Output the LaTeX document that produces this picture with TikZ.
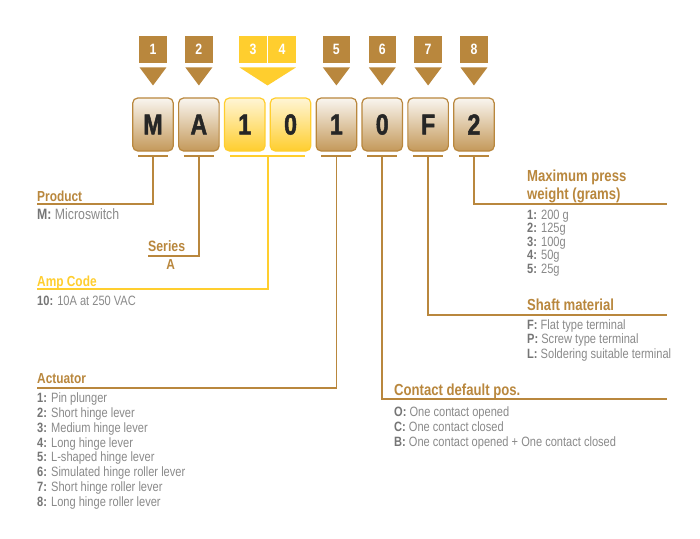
\documentclass[tikz,border=0pt]{standalone}
\usepackage{fontspec}
\setmainfont{Liberation Sans}[FakeStretch=0.82]
\newfontfamily\fontechave{Liberation Sans Bold}[FakeStretch=0.8, FakeBold=1.6]
\usetikzlibrary{positioning,calc}

\definecolor{ocre}{HTML}{B9873D}
\definecolor{ouro}{HTML}{FFCE2E}
\definecolor{cinza}{HTML}{8A8A8A}
\definecolor{cinzaesc}{HTML}{757575}
\definecolor{tinta}{HTML}{262626}

\newcommand{\opc}[2]{{\bfseries\color{cinzaesc}#1:} #2}

\begin{document}
\begin{tikzpicture}[x=1pt, y=-1pt]

    \useasboundingbox[fill=white] (0,0) rectangle (700,538);

    % Estilos
    \tikzset{
        numtag/.style={fill=ocre, minimum width=27.5pt, minimum height=27.5pt, inner sep=0pt,
            text=white, font=\bfseries\fontsize{15}{15}\selectfont},
        chave/.style={rounded corners=5pt, line width=1.2pt, draw=ocre, top color=ocre!8,
            bottom color=ocre!85, minimum width=40.5pt, minimum height=53pt, inner sep=0pt,
            text=tinta, font=\fontechave\fontsize{29}{29}\selectfont},
        chaveamp/.style={chave, draw=ouro, top color=ouro!20, bottom color=ouro},
        titulo/.style={anchor=base west, inner sep=0pt, text=ocre, align=left,
            font=\bfseries\fontsize{14.5}{16}\selectfont},
        tituloR/.style={titulo, font=\bfseries\fontsize{16}{17.6}\selectfont},
        lista/.style={anchor=base west, inner sep=0pt, align=left, text=cinza,
            font=\fontsize{13.5}{14.9}\selectfont},
        barra/.style={ocre, line width=2pt},
        lien/.style={draw=ocre, line width=1.8pt}
    }

    % --------------------
    % Numeros e setas
    % --------------------
    \foreach \i/\x in {1/153, 2/198.85, 5/336.4, 6/382.25, 7/428.1, 8/473.95} {
        \node[numtag] (t\i) at (\x,49.5) {\i};
        \fill[ocre] ([xshift=0.5pt,yshift=-4pt]t\i.south west) --
            ([xshift=-0.5pt,yshift=-4pt]t\i.south east) --
            ([yshift=-22pt]t\i.south) -- cycle;
    }

    \node[numtag, fill=ouro] (t3) at (253,49.5) {3};
    \node[numtag, fill=ouro] (t4) at (282,49.5) {4};
    \fill[ouro] ([xshift=0.5pt,yshift=-4pt]t3.south west) --
        ([yshift=-4pt]t4.south east) --
        ($(t3.south east)!0.5!(t4.south west)+(0,-22pt)$) -- cycle;

    % --------------------
    % Codigo
    % --------------------
    \foreach \i/\x/\l in {1/153/M, 2/198.85/A, 5/336.4/1, 6/382.25/0, 7/428.1/F, 8/473.95/2}
        \node[chave] (b\i) at (\x,124.5) {\l};

    \node[chaveamp] (b3) at (244.7,124.5) {1};
    \node[chaveamp] (b4) at (290.55,124.5) {0};

    \foreach \i in {1,2,5,6,7,8}
        \draw[barra] ([xshift=-15pt,yshift=-4.5pt]b\i.south) -- ([xshift=15pt,yshift=-4.5pt]b\i.south);
    \draw[barra, ouro] ([xshift=-14.7pt,yshift=-4.5pt]b3.south) -- ([xshift=14.7pt,yshift=-4.5pt]b4.south);

    % --------------------
    % Ligacoes
    % --------------------
    \coordinate (fProd) at (37,204);
    \coordinate (fSerie) at (148,256);
    \coordinate (fAmp) at (37,289);
    \coordinate (fAct) at (37,388);
    \coordinate (fCont) at (667,399);
    \coordinate (fEixo) at (667,315);
    \coordinate (fPeso) at (667,204);
    \coordinate (m34) at ($(b3.south)!0.5!(b4.south)+(0,-4.5pt)$);

    \draw[lien] ([yshift=-4.5pt]b1.south) |- (fProd);
    \draw[lien] ([yshift=-4.5pt]b2.south) |- (fSerie);
    \draw[lien, draw=ouro] (m34) |- (fAmp);
    \draw[lien] ([yshift=-4.5pt]b5.south) |- (fAct);
    \draw[lien] ([yshift=-4.5pt]b6.south) |- (fCont);
    \draw[lien] ([yshift=-4.5pt]b7.south) |- (fEixo);
    \draw[lien] ([yshift=-4.5pt]b8.south) |- (fPeso);

    % --------------------
    % Textos (base = ultima linha)
    % --------------------
    \node[titulo] (hProd) at (37,201.5) {Product};
    \node[lista, font=\fontsize{15}{16}\selectfont] (lProd) at (37,219) {\opc{M}{Microswitch}};

    \node[titulo, font=\bfseries\fontsize{15}{16}\selectfont] (hSerie) at (148,251.7) {Series};
    \node[titulo, anchor=base] (lSerie) at (170.7,269) {A};

    \node[titulo, text=ouro] (hAmp) at (37,286) {Amp Code};
    \node[lista] (lAmp) at (37,305.7) {\opc{10}{10A at 250 VAC}};

    \node[titulo] (hAct) at (37,383.3) {Actuator};
    \node[lista] (lAct) at (37,506.6) {\opc{1}{Pin plunger}\\ \opc{2}{Short hinge lever}\\
        \opc{3}{Medium hinge lever}\\ \opc{4}{Long hinge lever}\\ \opc{5}{L-shaped hinge lever}\\
        \opc{6}{Simulated hinge roller lever}\\ \opc{7}{Short hinge roller lever}\\
        \opc{8}{Long hinge roller lever}};

    \node[tituloR] (hCont) at (394,395) {Contact default pos.};
    \node[lista, font=\fontsize{13.5}{14.7}\selectfont] (lCont) at (394,446.1) {\opc{O}{One contact opened}\\
        \opc{C}{One contact closed}\\ \opc{B}{One contact opened + One contact closed}};

    \node[tituloR] (hEixo) at (527,310.7) {Shaft material};
    \node[lista, font=\fontsize{13.5}{14.6}\selectfont] (lEixo) at (527,358.2) {\opc{F}{Flat type terminal}\\
        \opc{P}{Screw type terminal}\\ \opc{L}{Soldering suitable terminal}};

    \node[tituloR] (hPeso) at (527,199.3) {Maximum press\\weight (grams)};
    \node[lista, font=\fontsize{13.5}{13.6}\selectfont] (lPeso) at (527,273.4) {\opc{1}{200 g}\\
        \opc{2}{125g}\\ \opc{3}{100g}\\ \opc{4}{50g}\\ \opc{5}{25g}};

\end{tikzpicture}
\end{document}
